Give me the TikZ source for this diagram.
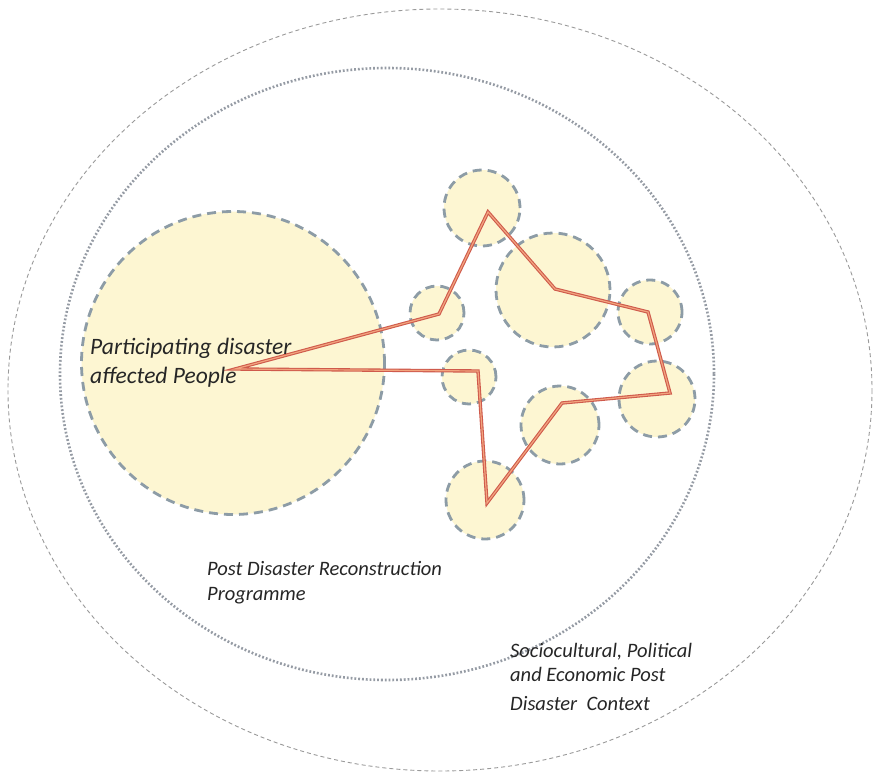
\documentclass[tikz,border=0pt]{standalone}
\usepackage{fontspec}
\setmainfont{Carlito}
\begin{document}
\begin{tikzpicture}[x=1pt,y=-1pt,
  blob/.style={circle,inner sep=0pt,fill=blobfill,draw=blobedge,line width=2.8pt,
    dash pattern=on 9pt off 6pt},
  lbl/.style={align=left,anchor=base west,inner sep=0pt,text=labeltext},
  route/.style={line width=3.4pt,draw=routeedge,line join=miter},
  routecore/.style={line width=1.2pt,draw=routecore,line join=miter}]
\definecolor{blobfill}{HTML}{FDF6D2}
\definecolor{blobedge}{HTML}{8D9CA6}
\definecolor{routeedge}{HTML}{CF5A4C}
\definecolor{routecore}{HTML}{F2A47E}
\definecolor{labeltext}{HTML}{262626}
\definecolor{ringgray}{HTML}{9A9A9A}
\definecolor{dotgray}{HTML}{959BA4}
\useasboundingbox (0,0) rectangle (880,773);
\fill[white] (0,0) rectangle (880,773);

% context and programme rings
\draw[ringgray,line width=0.9pt,dash pattern=on 4pt off 3pt] (440,390) ellipse [x radius=432,y radius=381];
\draw[dotgray,line width=2.6pt,dash pattern=on 1.8pt off 2pt] (387,374) ellipse [x radius=327,y radius=306];

% participating people and surrounding actors
\node[blob,minimum size=303pt] (people) at (233,363) {};
\node[blob,minimum size=76pt] (c1) at (482,208) {};
\node[blob,minimum size=114pt] (c2) at (553,290) {};
\node[blob,minimum size=54pt] (c3) at (437,313) {};
\node[blob,minimum size=64pt] (c4) at (650,312) {};
\node[blob,minimum size=54pt] (c5) at (469,377) {};
\node[blob,minimum size=76pt] (c6) at (657,399) {};
\node[blob,minimum size=78pt] (c7) at (560,425) {};
\node[blob,minimum size=78pt] (c8) at (485,500) {};

% vertices of the star-shaped route
\coordinate (p0) at (235,369);
\coordinate (p1) at (439,314);
\coordinate (p2) at (488,212);
\coordinate (p3) at (555,289);
\coordinate (p4) at (648,312);
\coordinate (p5) at (670,393);
\coordinate (p6) at (562,403);
\coordinate (p7) at (487,503);
\coordinate (p8) at (478,371);

\draw[route] (p0) -- (p1) -- (p2) -- (p3) -- (p4) -- (p5) -- (p6) -- (p7) -- (p8) -- cycle;
\draw[routecore] (p0) -- (p1) -- (p2) -- (p3) -- (p4) -- (p5) -- (p6) -- (p7) -- (p8) -- cycle;

% labels (anchored at the baseline of their last line)
\node[lbl,font=\itshape\fontsize{23.5}{28.5}\selectfont] (tpeople) at (90,383)
  {Participating disaster\\affected People};
\node[lbl,font=\itshape\fontsize{20.5}{25}\selectfont] (tprog) at (207,600)
  {Post Disaster Reconstruction\\Programme};
\node[lbl,font=\itshape\fontsize{20.5}{24}\selectfont] (tctx) at (510,710)
  {Sociocultural, Political\\and Economic Post\\[5pt]Disaster\ \ Context};
\end{tikzpicture}
\end{document}
